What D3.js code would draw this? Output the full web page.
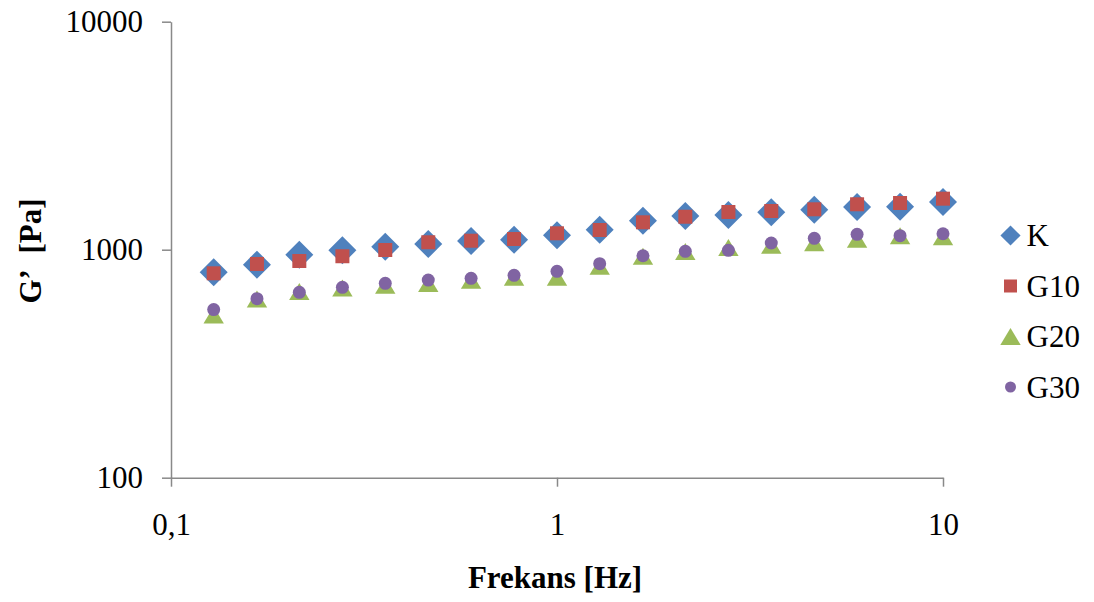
<!DOCTYPE html>
<html>
<head>
<meta charset="utf-8">
<script src="https://cdnjs.cloudflare.com/ajax/libs/d3/7.8.5/d3.min.js"></script>
<style>
    body { margin: 0; background: #ffffff; }
    text { font-family: "Liberation Serif", "Times New Roman", serif; fill: #000000; }
    .axis path, .axis line { stroke: #898989; stroke-width: 1.5px; }
    .axis text { font-size: 31px; }
    .title { font-size: 31px; font-weight: bold; }
    .legend text { font-size: 31px; }
</style>
</head>
<body>
<svg id="chart" width="1094" height="602"></svg>
<script>
// frequency values [Hz]
var freq = [0.129, 0.167, 0.215, 0.278, 0.359, 0.464, 0.599, 0.774, 1, 1.29, 1.67, 2.15, 2.78, 3.59, 4.64, 5.99, 7.74, 10];

// G' values [Pa] per sample
var seriesK   = [796, 860, 951, 994, 1031, 1059, 1092, 1106, 1157, 1224, 1340, 1405, 1420, 1459, 1497, 1539, 1544, 1619];
var seriesG10 = [788, 866, 892, 936, 997, 1078, 1095, 1114, 1180, 1220, 1319, 1395, 1463, 1478, 1504, 1582, 1603, 1674];
var seriesG20 = [517, 608, 655, 680, 698, 710, 735, 757, 757, 846, 936, 982, 1022, 1046, 1073, 1112, 1152, 1139];
var seriesG30 = [546, 610, 650, 684, 712, 736, 749, 772, 804, 868, 941, 984, 994, 1070, 1122, 1168, 1152, 1175];

var seriesNames = ["K", "G10", "G20", "G30"];
var xTicks = [0.1, 1, 10];
var xTickLabels = ["0,1", "1", "10"];
var yTicks = [100, 1000, 10000];
var yTickLabels = ["100", "1000", "10000"];

var colors = ["#4F81BD", "#C0504D", "#9BBB59", "#8064A2"];
var shapes = ["diamond", "square", "triangle", "circle"];

var svg = d3.select("#chart");

// plot area edges (window.top is taken, so own names)
var plotLeft = 171, plotRight = 943, plotTop = 21.7, plotBottom = 477.7;

var xScale = d3.scaleLog()
    .domain([0.1, 10])
    .range([plotLeft, plotRight]);

var yScale = d3.scaleLog()
    .domain([100, 10000])
    .range([plotBottom, plotTop]);

// marker path for each shape; big = plot size, small = legend size
function markerPath(shape, big) {
    var k = big ? 1 : 0.72;
    if (shape == "diamond") {
        var h = 14 * k;
        return "M0," + (-h) + "L" + h + ",0L0," + h + "L" + (-h) + ",0Z";
    }
    if (shape == "square") {
        var s = big ? 7 : 6.5;
        return "M" + (-s) + "," + (-s) + "H" + s + "V" + s + "H" + (-s) + "Z";
    }
    if (shape == "triangle") {
        return "M0,-8.5L10.2,8.5L-10.2,8.5Z";
    }
    var r = big ? 6.5 : 5.5;
    return d3.symbol().type(d3.symbolCircle).size(Math.PI * r * r)();
}

// axes
var xAxis = d3.axisBottom(xScale)
    .tickValues(xTicks)
    .tickFormat(function (d, i) { return xTickLabels[i]; })
    .tickSizeInner(9)
    .tickSizeOuter(0)
    .tickPadding(26);

svg.append("g")
    .attr("class", "axis")
    .attr("transform", "translate(0," + plotBottom + ")")
    .call(xAxis);

var yAxis = d3.axisLeft(yScale)
    .tickValues(yTicks)
    .tickFormat(function (d, i) { return yTickLabels[i]; })
    .tickSizeInner(9)
    .tickSizeOuter(0)
    .tickPadding(19);

svg.append("g")
    .attr("class", "axis")
    .attr("transform", "translate(" + plotLeft + ",0)")
    .call(yAxis);

// points
var allSeries = [seriesK, seriesG10, seriesG20, seriesG30];

allSeries.forEach(function (values, si) {
    svg.append("g")
        .selectAll("path")
        .data(values)
        .enter()
        .append("path")
        .attr("transform", function (d, i) {
            return "translate(" + xScale(freq[i]) + "," + yScale(d) + ")";
        })
        .attr("d", markerPath(shapes[si], true))
        .style("fill", colors[si]);
});

// axis titles
svg.append("text")
    .attr("class", "title")
    .attr("x", 555)
    .attr("y", 588)
    .attr("text-anchor", "middle")
    .text("Frekans [Hz]");

svg.append("text")
    .attr("class", "title")
    .attr("transform", "translate(41,251) rotate(-90)")
    .attr("text-anchor", "middle")
    .text("G’\u00a0 [Pa]");

// legend
var legend = svg.append("g")
    .attr("class", "legend");

var entry = legend.selectAll("g")
    .data(seriesNames)
    .enter()
    .append("g")
    .attr("transform", function (d, i) { return "translate(1010.5," + (235.5 + i * 50.5) + ")"; });

entry.append("path")
    .attr("d", function (d, i) { return markerPath(shapes[i], false); })
    .style("fill", function (d, i) { return colors[i]; });

entry.append("text")
    .attr("x", 16)
    .attr("dy", "0.35em")
    .text(function (d) { return d; });
</script>
</body>
</html>
